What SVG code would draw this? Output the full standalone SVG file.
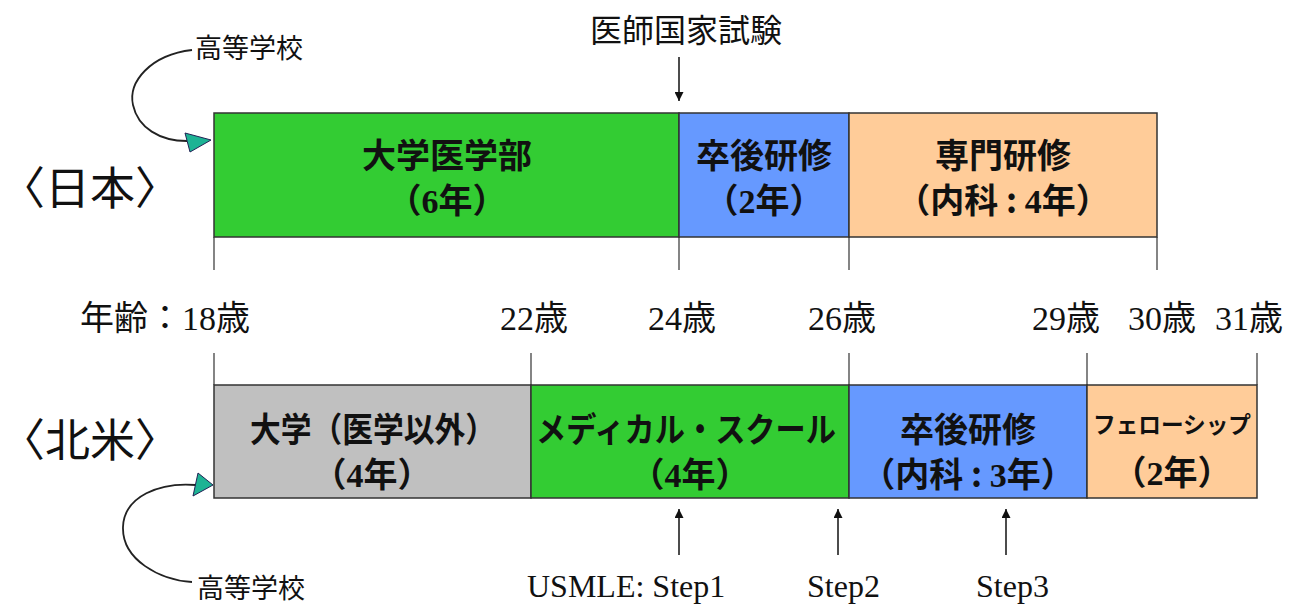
<svg xmlns="http://www.w3.org/2000/svg" width="1290" height="608" viewBox="0 0 1290 608">
<style>
.box{stroke:#333;stroke-width:1.5}
.g{fill:#33CC33}.b{fill:#6699FF}.p{fill:#FFCC99}.gr{fill:#C0C0C0}
.bt{font-family:"Noto Sans CJK JP",sans-serif;font-weight:bold;font-size:34px;fill:#111;text-anchor:middle}
.num{font-family:"Liberation Serif",serif;font-weight:bold}
.age{font-family:"Liberation Serif","Noto Sans CJK JP",serif;font-size:34px;fill:#111}
.cj{font-family:"Noto Sans CJK JP",sans-serif}
.lbl{font-family:"Noto Sans CJK JP",sans-serif;font-size:27px;fill:#111}
.big{font-family:"Noto Sans CJK JP",sans-serif;font-size:45px;fill:#111}
.st{font-family:"Liberation Serif",serif;font-size:32px;fill:#111}
.tick{stroke:#333;stroke-width:1.2}
.ln{stroke:#111;stroke-width:1.5;fill:none}
.cv{stroke:#222;stroke-width:1.8;fill:none}
.ah{fill:#1DB394;stroke:#225;stroke-width:1}
</style>
<defs>
<marker id="arr" viewBox="0 0 10 10" refX="10" refY="5" markerWidth="9" markerHeight="9" orient="auto" markerUnits="userSpaceOnUse">
<path d="M0,0 L10,5 L0,10 z" fill="#111"/>
</marker>
</defs>

<g id="title-japan"><text class="big" x="0" y="205">〈日本〉</text></g>
<g id="title-na"><text class="big" x="0" y="457">〈北米〉</text></g>

<g id="jp-univ"><rect class="box g" x="214" y="113" width="465" height="124"/>
<text class="bt" x="447" y="168">大学医学部</text>
<text class="bt" x="447" y="213">（<tspan class="num">6</tspan>年）</text></g>
<g id="jp-res"><rect class="box b" x="679" y="113" width="170" height="124"/>
<text class="bt" x="764" y="168">卒後研修</text>
<text class="bt" x="764" y="213">（<tspan class="num">2</tspan>年）</text></g>
<g id="jp-spec"><rect class="box p" x="849" y="113" width="308" height="124"/>
<text class="bt" x="1003" y="168">専門研修</text>
<text class="bt" x="1003" y="213">（内科 : <tspan class="num">4</tspan>年）</text></g>

<g id="na-univ"><rect class="box gr" x="214" y="385" width="317" height="113"/>
<text class="bt" x="373" y="442" textLength="246" lengthAdjust="spacingAndGlyphs">大学（医学以外）</text>
<text class="bt" x="372" y="487">（<tspan class="num">4</tspan>年）</text></g>
<g id="na-med"><rect class="box g" x="531" y="385" width="318" height="113"/>
<text class="bt" x="686" y="442" textLength="300" lengthAdjust="spacingAndGlyphs">メディカル・スクール</text>
<text class="bt" x="690" y="487">（<tspan class="num">4</tspan>年）</text></g>
<g id="na-res"><rect class="box b" x="849" y="385" width="238" height="113"/>
<text class="bt" x="968" y="442">卒後研修</text>
<text class="bt" x="968" y="487">（内科 : <tspan class="num">3</tspan>年）</text></g>
<g id="na-fel"><rect class="box p" x="1087" y="385" width="170" height="113"/>
<text class="bt" x="1172" y="433" style="font-size:23px" textLength="158" lengthAdjust="spacingAndGlyphs">フェローシップ</text>
<text class="bt" x="1172" y="485">（<tspan class="num">2</tspan>年）</text></g>

<g id="ages">
<text class="age" x="80" y="330"><tspan class="cj">年齢：</tspan>18<tspan class="cj">歳</tspan></text>
<text class="age" x="500" y="330">22<tspan class="cj">歳</tspan></text>
<text class="age" x="648" y="330">24<tspan class="cj">歳</tspan></text>
<text class="age" x="808" y="330">26<tspan class="cj">歳</tspan></text>
<text class="age" x="1032" y="330">29<tspan class="cj">歳</tspan></text>
<text class="age" x="1128" y="330">30<tspan class="cj">歳</tspan></text>
<text class="age" x="1215" y="330">31<tspan class="cj">歳</tspan></text>
</g>

<g id="labels">
<text class="lbl" x="195" y="58">高等学校</text>
<text class="lbl" x="197" y="598">高等学校</text>
<text class="lbl" x="590" y="42" style="font-size:32px">医師国家試験</text>
<text class="st" x="527" y="597">USMLE: Step1</text>
<text class="st" x="807" y="597">Step2</text>
<text class="st" x="976" y="597">Step3</text>
</g>

<g id="connectors">
<line class="tick" x1="214" y1="237" x2="214" y2="270"/>
<line class="tick" x1="679" y1="237" x2="679" y2="270"/>
<line class="tick" x1="849" y1="237" x2="849" y2="270"/>
<line class="tick" x1="1157" y1="237" x2="1157" y2="270"/>
<line class="tick" x1="214" y1="353" x2="214" y2="385"/>
<line class="tick" x1="531" y1="353" x2="531" y2="385"/>
<line class="tick" x1="849" y1="353" x2="849" y2="385"/>
<line class="tick" x1="1087" y1="353" x2="1087" y2="385"/>
<line class="tick" x1="1257" y1="353" x2="1257" y2="385"/>
<line class="ln" x1="679" y1="57" x2="679" y2="101" marker-end="url(#arr)"/>
<line class="ln" x1="679" y1="555" x2="679" y2="509" marker-end="url(#arr)"/>
<line class="ln" x1="838" y1="555" x2="838" y2="509" marker-end="url(#arr)"/>
<line class="ln" x1="1006" y1="555" x2="1006" y2="509" marker-end="url(#arr)"/>
<path class="cv" d="M192,50 C150,55 128,82 133,105 C138,128 160,141 187,141"/>
<polygon class="ah" points="185,133 211,140 190,152"/>
<path class="cv" d="M196,485 C160,482 124,496 123,527 C122,560 160,580 192,582"/>
<polygon class="ah" points="198,473 213,485 193,496"/>
</g>
</svg>
